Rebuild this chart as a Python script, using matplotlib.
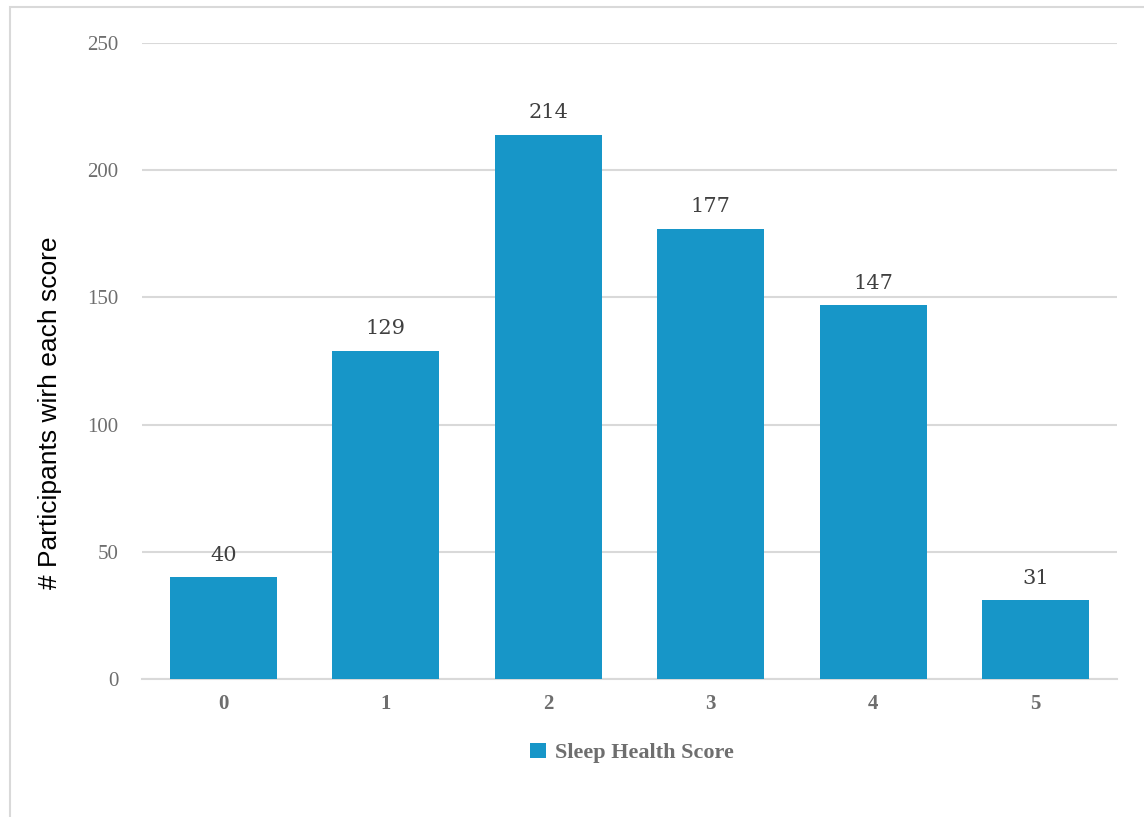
import matplotlib
matplotlib.use("Agg")
import matplotlib.pyplot as plt
from matplotlib.patches import Rectangle

categories = ["0", "1", "2", "3", "4", "5"]
values = [40, 129, 214, 177, 147, 31]
yticks = [0, 50, 100, 150, 200, 250]
series_name = "Sleep Health Score"
ylabel = "# Participants wirh each score"

bar_color = "#1796C8"
grid_color = "#D9D9D9"
tick_gray = "#6E6E6E"

W, H = 1144, 817
fig = plt.figure(figsize=(W / 100, H / 100), dpi=100)
fig.patch.set_facecolor("white")

# outer border of the chart area
fig.patches.append(Rectangle((10 / W, -0.01), 1.1, 1 - 7 / H + 0.01,
                             transform=fig.transFigure, fill=False,
                             edgecolor="#D9D9D9", linewidth=1.5))

ax = fig.add_axes([142 / W, 1 - 679 / H, (1117 - 142) / W, (679 - 43) / H])
x = list(range(len(categories)))
bars = ax.bar(x, values, width=0.66, color=bar_color, zorder=3,
              label=series_name)
ax.set_xlim(-0.5, len(categories) - 0.5)
ax.set_ylim(0, 250)
ax.set_yticks(yticks)
ax.set_yticklabels([str(t) for t in yticks], fontfamily="Liberation Serif",
                   fontsize=15, color=tick_gray)
ax.set_xticks(x)
ax.set_xticklabels(categories, fontfamily="Liberation Serif", fontsize=15,
                   fontweight="bold", color=tick_gray)
ax.tick_params(axis="both", length=0)
ax.tick_params(axis="y", pad=17)
ax.tick_params(axis="x", pad=11)
ax.grid(axis="y", color=grid_color, linewidth=1.5, zorder=0)
for s in ["top", "right", "left"]:
    ax.spines[s].set_visible(False)
ax.spines["bottom"].set_color(grid_color)
ax.spines["bottom"].set_linewidth(1.5)

for xi, v in zip(x, values):
    ax.annotate(str(v), (xi, v), xytext=(0, 9), textcoords="offset points",
                ha="center", va="bottom", fontsize=15,
                fontfamily="DejaVu Serif", color="#404040")

fig.text(50 / W, 1 - 413 / H, ylabel, rotation=90, ha="center", va="center",
         fontfamily="Liberation Sans", fontsize=19, color="black")

leg = fig.legend(handles=[bars], labels=[series_name],
                 loc="center", bbox_to_anchor=(632 / W, 1 - 753 / H),
                 frameon=False, handlelength=0.7, handleheight=0.7,
                 handletextpad=0.4,
                 prop={"family": "Liberation Serif", "weight": "bold",
                       "size": 16})
for t in leg.get_texts():
    t.set_color(tick_gray)

fig.savefig("out.png", dpi=100, facecolor="white")
